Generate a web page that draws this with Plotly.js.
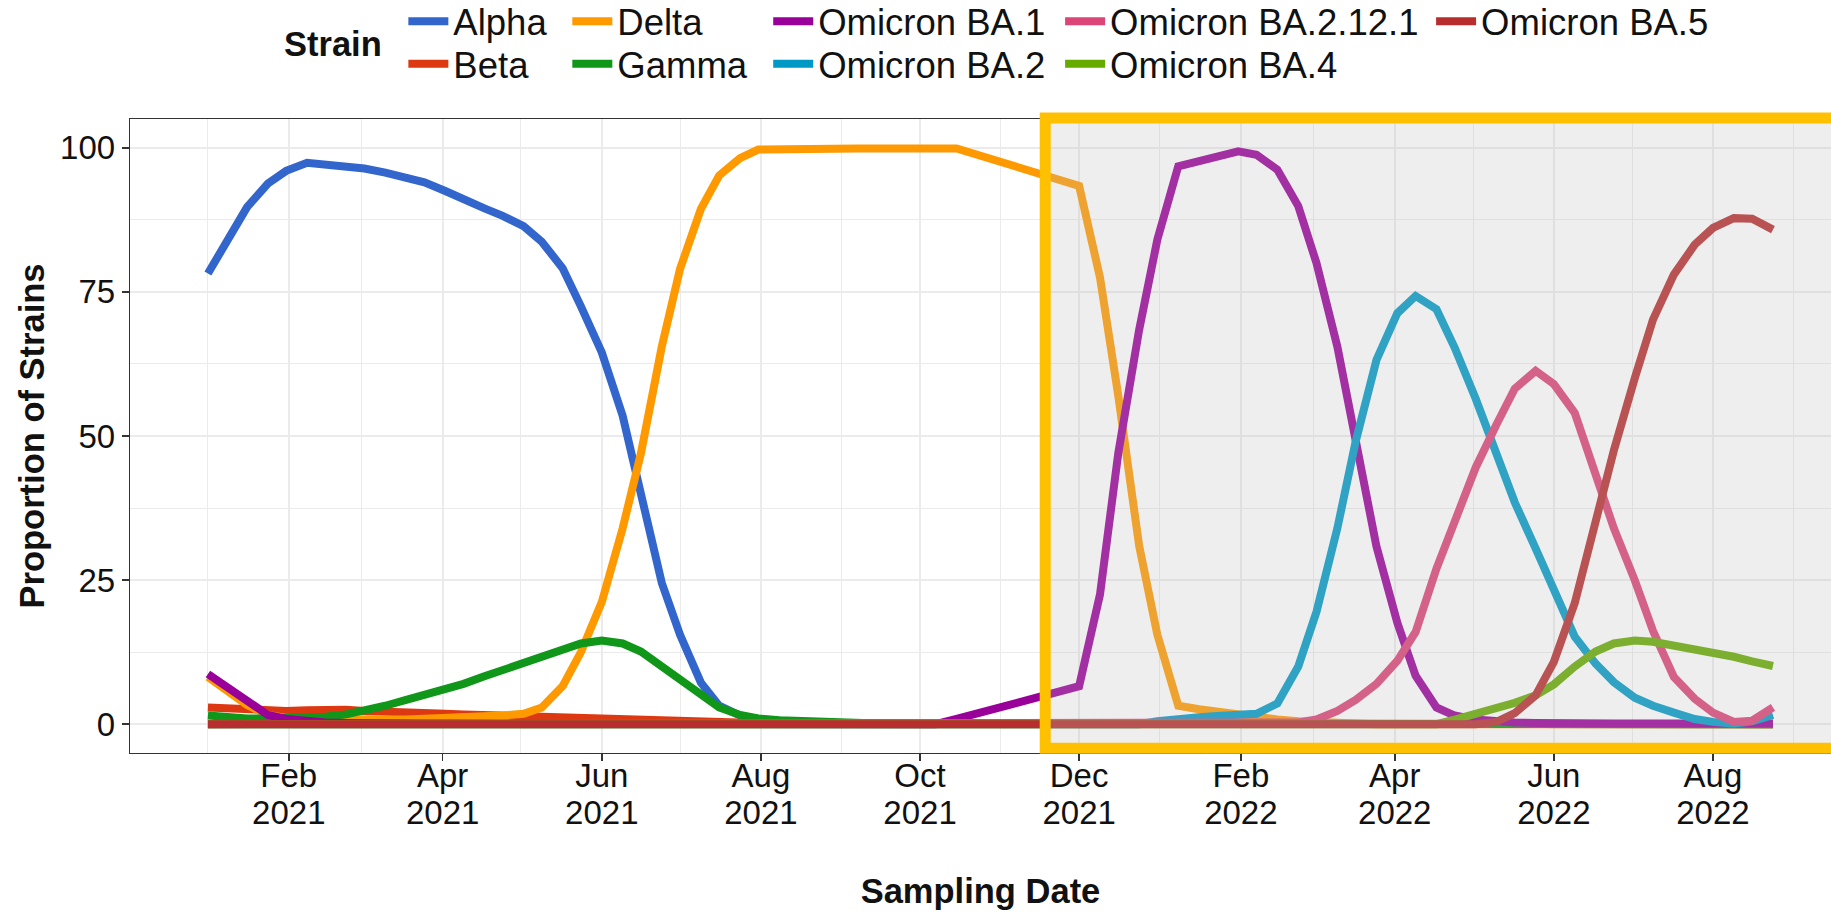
<!DOCTYPE html>
<html><head><meta charset="utf-8">
<script src="https://cdn.plot.ly/plotly-3.0.1.min.js"></script>
<style>html,body{margin:0;padding:0;background:#fff;}#chart{width:1831px;height:912px;}</style>
</head><body><div id="chart"></div>
<script>
// ---------------- data ----------------
const dates = [
  '2021-01-01','2021-01-09','2021-01-16','2021-01-24','2021-01-31','2021-02-08','2021-02-15','2021-02-23',
  '2021-03-02','2021-03-10','2021-03-18','2021-03-25','2021-04-02','2021-04-09','2021-04-17','2021-04-24',
  '2021-05-02','2021-05-09','2021-05-17','2021-05-24','2021-06-01','2021-06-09','2021-06-16','2021-06-24',
  '2021-07-01','2021-07-09','2021-07-16','2021-07-24','2021-07-31','2021-08-08','2021-08-16','2021-08-23',
  '2021-08-31','2021-09-07','2021-09-15','2021-09-22','2021-09-30','2021-10-07','2021-10-15',
  '2021-12-01','2021-12-09','2021-12-16','2021-12-24','2021-12-31','2022-01-08','2022-01-16','2022-01-23',
  '2022-01-31','2022-02-07','2022-02-15','2022-02-23','2022-03-02','2022-03-10','2022-03-17','2022-03-25',
  '2022-04-02','2022-04-09','2022-04-17','2022-04-24','2022-05-02','2022-05-10','2022-05-17','2022-05-25',
  '2022-06-01','2022-06-09','2022-06-17','2022-06-24','2022-07-02','2022-07-09','2022-07-17','2022-07-25',
  '2022-08-01','2022-08-09','2022-08-16','2022-08-24'
];
const alpha = [
  78.2,84.5,89.7,93.8,96.0,97.4,97.1,96.8,96.4,95.7,94.9,94.0,92.5,91.0,89.5,88.2,86.4,83.7,79.1,72.5,
  64.5,53.5,39.5,24.5,15.5,7.2,3.2,1.5,0.8,0.5,0.3,0.2,0.2,0.1,0.1,0.1,0.1,0.1,0.1,
  0,0,0,0,0,0,0,0,0,0,0,0,0,0,0,0,0,0,0,0,0,0,0,0,0,0,0,0,0,0,0,0,0,0,0,0
];
const beta = [
  2.9,2.7,2.5,2.4,2.3,2.4,2.5,2.5,2.3,2.1,2.0,1.9,1.8,1.7,1.6,1.5,1.4,1.3,1.1,0.9,
  0.7,0.6,0.5,0.4,0.4,0.3,0.3,0.2,0.2,0.1,0.1,0.1,0.1,0.1,0,0,0,0,0,
  0,0,0,0,0,0,0,0,0,0,0,0,0,0,0,0,0,0,0,0,0,0,0,0,0,0,0,0,0,0,0,0,0,0,0,0
];
const delta = [
  8.2,5.6,3.3,1.6,1.1,0.9,0.8,0.8,0.8,0.8,0.8,0.9,1.0,1.1,1.3,1.5,1.8,2.9,6.6,12.5,
  21.2,34,47,65.5,79,89.4,95.2,98.2,99.7,99.8,99.9,99.8,99.9,99.9,99.9,99.9,99.9,100,99.9,
  93.4,77.5,57,31,15.5,3.2,2.6,2.1,1.6,1.2,0.8,0.5,0.3,0.2,0.1,
  0,0,0,0,0,0,0,0,0,0,0,0,0,0,0,0,0,0,0,0,0
];
const gamma = [
  1.5,1.2,1.0,1.0,1.0,1.1,1.3,1.7,2.3,3.2,4.2,5.1,6.0,7.0,8.3,9.4,10.6,11.8,13.0,14.0,
  14.5,14.0,12.6,10.0,7.4,4.8,2.9,1.6,1.0,0.7,0.5,0.4,0.3,0.2,0.1,0.1,0.1,0.1,0.1,
  0,0,0,0,0,0,0,0,0,0,0,0,0,0,0,0,0,0,0,0,0,0,0,0,0,0,0,0,0,0,0,0,0,0,0,0
];
const ba1 = [
  8.7,6.2,3.8,1.6,0.9,0.5,0.3,0.2,0.1,0.1,0.1,0.1,0.1,0.1,0,0,0,0,0,0,
  0,0,0,0,0,0,0,0,0,0,0,0,0,0,0,0,0,0,0.9,
  6.6,22.5,47,68.4,84.1,96.8,97.7,98.5,99.4,98.8,96.2,89.9,80,65.5,49.6,30.8,17.6,8.4,2.9,1.5,
  0.8,0.4,0.3,0.2,0.1,0.1,0.1,0.1,0.1,0.1,0.1,0.1,0.1,0.1,0.1,0.1
];
const ba2 = [
  0,0,0,0,0,0,0,0,0,0,0,0,0,0,0,0,0,0,0,0,0,0,0,0,0,0,0,0,0,0,0,0,0,0,0,0,0,0,0,
  0,0,0,0,0.5,1.0,1.2,1.4,1.5,1.8,3.6,10,19.5,34,49,63.2,71.3,74.3,72,65.3,
  56.5,47,38.5,30.5,23.2,15.2,10.5,7.3,4.6,3.2,2.0,0.9,0.4,0.1,0.5,1.6
];
const ba2121 = [
  0,0,0,0,0,0,0,0,0,0,0,0,0,0,0,0,0,0,0,0,0,0,0,0,0,0,0,0,0,0,0,0,0,0,0,0,0,0,0,
  0,0,0,0,0,0,0,0,0,0,0,0.3,0.8,2.3,4.2,7,11,16,27,35.2,
  44.5,52,58.2,61.3,59,54,43.8,34,25,16.2,8.2,4.4,2.0,0.4,0.6,2.9
];
const ba4 = [
  0,0,0,0,0,0,0,0,0,0,0,0,0,0,0,0,0,0,0,0,0,0,0,0,0,0,0,0,0,0,0,0,0,0,0,0,0,0,0,
  0,0,0,0,0,0,0,0,0,0,0,0,0,0,0,0,0,0,0,0.8,
  1.7,2.6,3.7,5.0,6.9,10,12.6,14,14.5,14.3,13.7,13.0,12.4,11.7,10.9,10.1
];
const ba5 = [
  0,0,0,0,0,0,0,0,0,0,0,0,0,0,0,0,0,0,0,0,0,0,0,0,0,0,0,0,0,0,0,0,0,0,0,0,0,0,0,
  0,0,0,0,0,0,0,0,0,0,0,0,0,0,0,0,0,0,0,0,
  0,0.4,1.9,5,10.8,21,35.5,47.5,60,70.2,78,83.2,86.1,87.8,87.7,85.8
];
const strainNames = ['Alpha','Beta','Delta','Gamma','Omicron BA.1','Omicron BA.2','Omicron BA.2.12.1','Omicron BA.4','Omicron BA.5'];
const strainValues = [alpha, beta, delta, gamma, ba1, ba2, ba2121, ba4, ba5];
const strainColors = ['#3366CC','#DC3912','#FF9900','#109618','#990099','#0099C6','#DD4477','#66AA00','#B82E2E'];
const yTicks = [0, 25, 50, 75, 100];
const highlightStart = '2021-11-18';
const highlightEnd = '2022-12-31';

// ---------------- layout helpers ----------------
const FONT = 'Liberation Sans, Arial, Helvetica, sans-serif';
const TXT = '#111111';
// legend slot positions: column x (paper), row y (container)
const colX = [0.1607, 0.2571, 0.3752, 0.5468, 0.7649];
const rowY = [0.9764, 0.9298];
// column-major order as in the reference legend
const slot = [[0,0],[0,1],[1,0],[1,1],[2,0],[2,1],[3,0],[3,1],[4,0]];

const traces = strainNames.map((n, i) => ({
  type: 'scatter', mode: 'lines', name: n, x: dates, y: strainValues[i],
  line: {color: strainColors[i], width: 8, shape: 'linear'},
  legend: i === 0 ? 'legend' : 'legend' + (i + 1),
  hoverinfo: 'skip'
}));
// helper (invisible) trace so that the year-label axis is drawn
traces.push({
  type: 'scatter', mode: 'lines', x: [dates[0], dates[dates.length - 1]], y: [null, null],
  xaxis: 'x2', yaxis: 'y', showlegend: false, hoverinfo: 'skip', line: {width: 0}
});

const xRange = ['2020-12-02 03:00', '2022-09-15 06:00'];
const layout = {
  width: 1831, height: 912,
  margin: {l: 129.6, r: 0, t: 119, b: 159.2},
  paper_bgcolor: '#ffffff', plot_bgcolor: '#ffffff',
  font: {family: FONT, color: TXT, size: 33},
  xaxis: {
    type: 'date', range: xRange, tickmode: 'linear', tick0: '2021-02-01', dtick: 'M2',
    tickformat: '%b', tickfont: {family: FONT, size: 33, color: TXT}, ticklabelstandoff: -14,
    ticks: 'outside', ticklen: 7, tickwidth: 1.5, tickcolor: '#333333',
    showgrid: true, gridcolor: '#EBEBEB', gridwidth: 2,
    minor: {tick0: '2021-01-01', dtick: 'M1', showgrid: true, gridcolor: '#EBEBEB', gridwidth: 1},
    showline: true, linecolor: '#333333', linewidth: 1.3, mirror: true, zeroline: false,
    title: {text: 'Sampling Date', font: {family: FONT, size: 34.5, color: TXT, weight: 'bold'}, standoff: 86},
    automargin: false
  },
  xaxis2: {
    type: 'date', range: xRange, overlaying: 'x', anchor: 'y', side: 'bottom',
    tickmode: 'linear', tick0: '2021-02-01', dtick: 'M2', tickformat: '%Y',
    tickfont: {family: FONT, size: 33, color: TXT}, ticks: 'outside', ticklen: 30.5,
    tickcolor: 'rgba(0,0,0,0)', tickwidth: 1,
    showgrid: false, showline: false, zeroline: false, automargin: false
  },
  yaxis: {
    range: [-5, 105], tickmode: 'array', tickvals: yTicks, ticktext: yTicks.map(String),
    tickfont: {family: FONT, size: 33, color: TXT},
    ticks: 'outside', ticklen: 7, tickwidth: 1.5, tickcolor: '#333333',
    showgrid: true, gridcolor: '#EBEBEB', gridwidth: 2,
    minor: {tickmode: 'array', tickvals: [12.5, 37.5, 62.5, 87.5], showgrid: true, gridcolor: '#EBEBEB', gridwidth: 1},
    showline: true, linecolor: '#333333', linewidth: 1.3, zeroline: false,
    title: {text: 'Proportion of Strains', font: {family: FONT, size: 34.5, color: TXT, weight: 'bold'}, standoff: 5},
    automargin: false
  },
  shapes: [{
    type: 'rect', xref: 'x', yref: 'paper', x0: highlightStart, x1: highlightEnd,
    y0: 0.0076, y1: 1.0016, layer: 'above',
    line: {color: '#FFC000', width: 11}, fillcolor: 'rgba(188,188,188,0.255)'
  }],
  annotations: [{
    xref: 'paper', yref: 'paper', x: 0.0896, y: 1.1185, xanchor: 'left', yanchor: 'middle',
    text: 'Strain', showarrow: false, font: {family: FONT, size: 34.5, color: TXT, weight: 'bold'}
  }],
  showlegend: true
};
strainNames.forEach((n, i) => {
  const key = i === 0 ? 'legend' : 'legend' + (i + 1);
  layout[key] = {
    xref: 'paper', yref: 'container',
    x: colX[slot[i][0]], y: rowY[slot[i][1]], xanchor: 'left', yanchor: 'middle',
    orientation: 'v', bgcolor: 'rgba(0,0,0,0)', borderwidth: 0, itemwidth: 40,
    font: {family: FONT, size: 36.5, color: TXT}
  };
});

Plotly.newPlot('chart', traces, layout, {displayModeBar: false, staticPlot: true});
</script>
</body></html>
